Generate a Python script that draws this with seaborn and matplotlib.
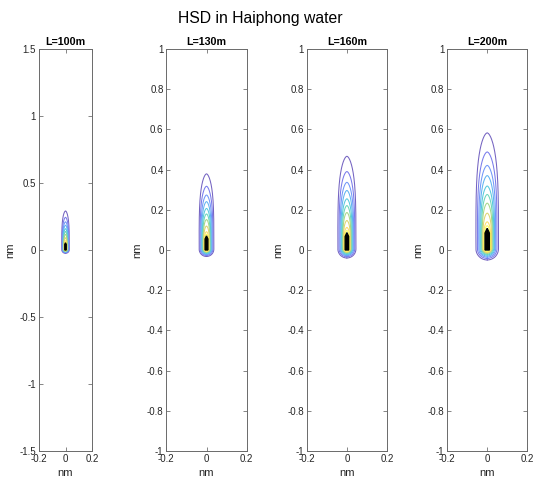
import numpy as np
import pandas as pd
import matplotlib
matplotlib.use("Agg")
import matplotlib.pyplot as plt
import seaborn as sns

# Ship lengths shown in the four panels (metres)
ship_lengths_m = [100, 130, 160, 200]
panel_titles = ["L=100m", "L=130m", "L=160m", "L=200m"]
y_limits = [1.5, 1.0, 1.0, 1.0]
y_tick_sets = [
    [-1.5, -1, -0.5, 0, 0.5, 1, 1.5],
    [-1, -0.8, -0.6, -0.4, -0.2, 0, 0.2, 0.4, 0.6, 0.8, 1],
    [-1, -0.8, -0.6, -0.4, -0.2, 0, 0.2, 0.4, 0.6, 0.8, 1],
    [-1, -0.8, -0.6, -0.4, -0.2, 0, 0.2, 0.4, 0.6, 0.8, 1],
]
x_ticks = [-0.2, 0, 0.2]

# HSD contour extents, in ship lengths (outermost level first)
contour_top = [5.40, 4.52, 3.90, 3.43, 2.95, 2.56, 2.16, 1.70, 1.30, 1.12]
contour_bottom = [-0.46, -0.39, -0.33, -0.28, -0.23, -0.19, -0.15, -0.12, -0.09, -0.06]
contour_halfwidth = [0.52, 0.45, 0.39, 0.34, 0.30, 0.26, 0.23, 0.20, 0.17, 0.15]

# Ship outline in ship lengths
ship_half_beam = 0.10
ship_bow_start = 0.78

NM = 1852.0

# parula-like palette, softened for thin contour lines
parula_anchors = [
    (0.2422, 0.1504, 0.6603), (0.2810, 0.3228, 0.9578), (0.1786, 0.5289, 0.9682),
    (0.0689, 0.6948, 0.8394), (0.2161, 0.7843, 0.5923), (0.6720, 0.7793, 0.2227),
    (0.9970, 0.7659, 0.2199), (0.9769, 0.9839, 0.0805),
]
base_colors = sns.blend_palette(parula_anchors, n_colors=len(contour_top))
level_colors = [tuple(0.72 * np.array(c) + 0.28) for c in base_colors]

sns.set_theme(style="white")
plt.rcParams["font.family"] = ["Liberation Sans", "DejaVu Sans"]


def outline(top, bot, hw, n=160):
    yc = bot + hw
    phi = np.linspace(0, np.pi / 2, n)
    y_lo = yc - (yc - bot) * np.cos(phi)
    x_lo = hw * np.sin(phi)
    t = np.linspace(0, 1, n)[1:]
    y_up = yc + (top - yc) * t
    x_up = hw * (1 - t ** 4) ** 0.6
    xr = np.concatenate([x_lo, x_up])
    yr = np.concatenate([y_lo, y_up])
    x = np.concatenate([xr, -xr[::-1][1:]])
    y = np.concatenate([yr, yr[::-1][1:]])
    return x, y


W, H = 534, 479
fig = plt.figure(figsize=(W / 100, H / 100), dpi=100)

ax_bottom_px, ax_top_px = 451, 49
centers_px = [65.5, 206.5, 346.9, 487.2]
ax_h = (ax_bottom_px - ax_top_px) / H

for k, L in enumerate(ship_lengths_m):
    Lnm = L / NM
    ylim = y_limits[k]
    px_per_unit = (ax_bottom_px - ax_top_px) / (2 * ylim)
    w_px = 0.4 * px_per_unit
    ax = fig.add_axes([(centers_px[k] - w_px / 2) / W, (H - ax_bottom_px) / H, w_px / W, ax_h])

    rows = []
    for i, (tp, bt, hw) in enumerate(zip(contour_top, contour_bottom, contour_halfwidth)):
        x, y = outline(tp * Lnm, bt * Lnm, hw * Lnm)
        rows.append(pd.DataFrame({"x": x, "y": y, "level": i}))
    df = pd.concat(rows, ignore_index=True)
    sns.lineplot(data=df, x="x", y="y", hue="level", units="level", estimator=None,
                 sort=False, palette=level_colors, legend=False, linewidth=0.75, ax=ax)

    b = ship_half_beam * Lnm
    ship_x = [-b, b, b, 0, -b, -b]
    ship_y = [0, 0, ship_bow_start * Lnm, Lnm, ship_bow_start * Lnm, 0]
    ax.fill(ship_x, ship_y, color="black", edgecolor="black", linewidth=1.0, zorder=5)

    ax.set_xlim(-0.2, 0.2)
    ax.set_ylim(-ylim, ylim)
    ax.set_xticks(x_ticks)
    ax.set_xticklabels([f"{v:g}" for v in x_ticks])
    ax.set_yticks(y_tick_sets[k])
    ax.set_yticklabels([f"{v:g}" for v in y_tick_sets[k]])
    ax.tick_params(direction="in", length=3, width=0.5, color="#555555",
                   labelsize=7, labelcolor="#262626", pad=2,
                   top=True, right=True, bottom=True, left=True)
    for s in ax.spines.values():
        s.set_color("#6a6a6a")
        s.set_linewidth(0.7)
    ax.set_xlabel("nm", fontsize=8, color="#262626", labelpad=3)
    ax.set_ylabel("nm", fontsize=8, color="#262626", labelpad=3)
    ax.set_title(panel_titles[k], fontsize=7.7, fontweight="bold", pad=3, color="#000000")
    ax.grid(False)

fig.text(260 / W, 1 - 18 / H, "HSD in Haiphong water", ha="center", va="center",
         fontsize=11.3, color="#000000")

fig.savefig("out.png", dpi=100, facecolor="white")
